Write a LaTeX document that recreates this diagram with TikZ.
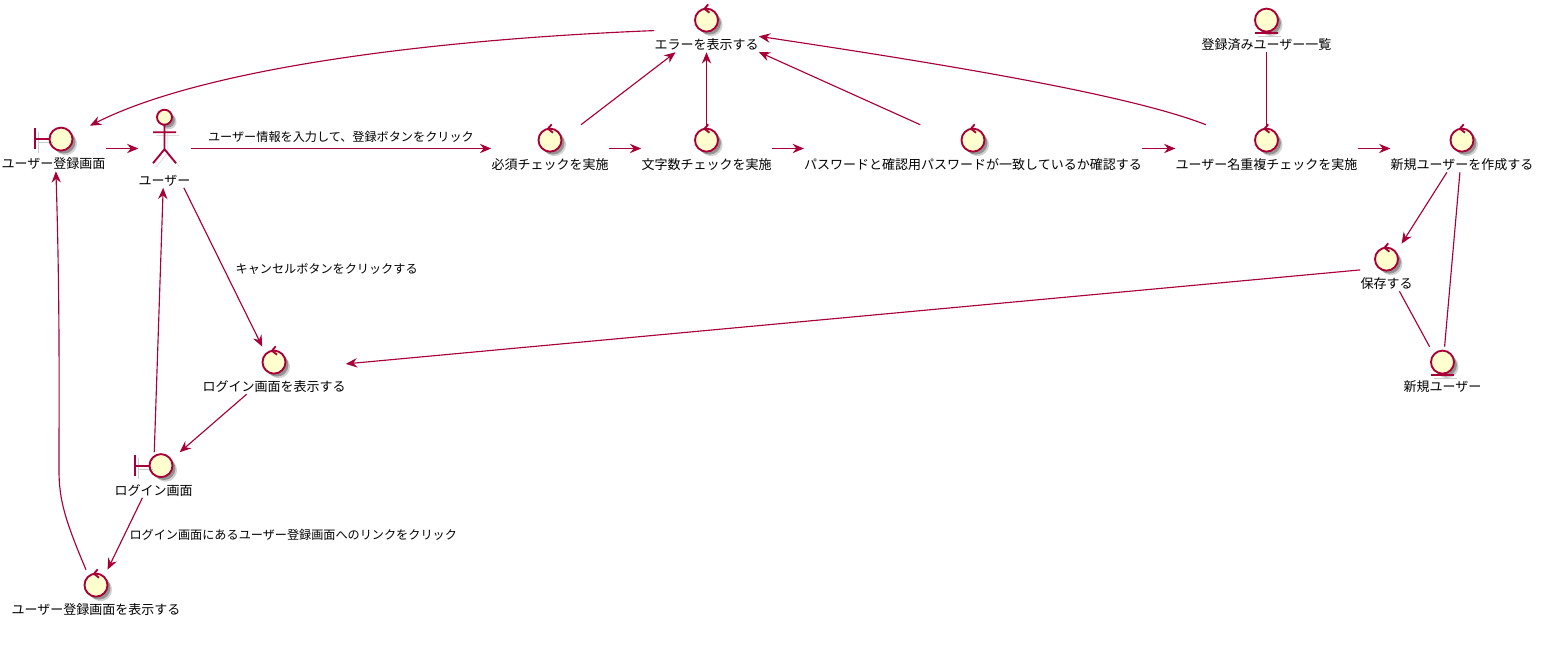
\documentclass[tikz,border=0pt]{standalone}
\usepackage{fontspec}
\setmainfont{Noto Sans CJK JP}
\usetikzlibrary{arrows.meta,shadows}
\definecolor{umlline}{HTML}{A80036}
\definecolor{umlfill}{HTML}{FEFECE}

\begin{document}
\begin{tikzpicture}[
    x=0.75pt, y=-0.75pt,
    elem/.style={rectangle, inner sep=0pt, font=\fontsize{9.75}{12}\selectfont, text height=33.5pt, text depth=1.75pt},
    disc/.style={draw=umlline, fill=umlfill, line width=1.4pt,
        drop shadow={shadow xshift=3.4pt, shadow yshift=-3.4pt, fill=black, opacity=0.18},
        drop shadow={shadow xshift=2.2pt, shadow yshift=-2.2pt, fill=black, opacity=0.3}},
    stroke/.style={draw=umlline, line width=1.4pt,
        preaction={draw=black, opacity=0.2, transform canvas={shift={(2.5pt,-2.5pt)}}}},
    control/.style={elem, append after command={\pgfextra{
        \draw[disc, shift={(\tikzlastnode.north)}] (0,15.4) circle[radius=11.5];
        \draw[draw=umlline, line width=1.4pt, shift={(\tikzlastnode.north)}] (1.7,-0.4) -- (-2,4) -- (3,8);
    }}},
    entity/.style={elem, append after command={\pgfextra{
        \draw[disc, shift={(\tikzlastnode.north)}] (0,15.4) circle[radius=11.5];
        \draw[stroke, shift={(\tikzlastnode.north)}] (-11.5,28.5) -- (11.5,28.5);
    }}},
    boundary/.style={elem, text height=32pt, append after command={\pgfextra{
        \draw[disc, shift={(\tikzlastnode.north)}] (7.5,13.4) circle[radius=11.5];
        \draw[stroke, shift={(\tikzlastnode.north)}] (-18.5,2.5) -- (-18.5,23.5) (-18.5,13.4) -- (-3.8,13.4);
    }}},
    actor/.style={elem, text height=56.75pt, append after command={\pgfextra{
        \draw[disc, shift={(\tikzlastnode.north)}] (0,8) circle[radius=7.5];
        \draw[stroke, shift={(\tikzlastnode.north)}] (0,15.5) -- (0,40) -- (-11.5,54) (0,40) -- (11.5,54) (-11.5,23) -- (11.5,23);
    }}},
    arrow/.style={-{Stealth[length=8.5pt, width=7pt, inset=2.8pt]}, draw=umlline, line width=0.85pt},
    link/.style={draw=umlline, line width=0.85pt},
    tag/.style={inner sep=0pt, font=\fontsize{9.1}{11}\selectfont}
]
    \useasboundingbox (0,0) rectangle (1543,648);

    % Nodes
    \node[control]  (err)       at (706.5,28.5)  {エラーを表示する};
    \node[entity]   (userlist)  at (1266.5,28.5) {登録済みユーザー一覧};
    \node[boundary] (regscr)    at (53.5,148.5)  {ユーザー登録画面};
    \node[actor]    (user)      at (164.5,148.5) {ユーザー};
    \node[control]  (chkreq)    at (550,148.5)   {必須チェックを実施};
    \node[control]  (chklen)    at (706.5,148.5) {文字数チェックを実施};
    \node[control]  (chkpw)     at (973,148.5)   {パスワードと確認用パスワードが一致しているか確認する};
    \node[control]  (chkdup)    at (1266.5,148.5) {ユーザー名重複チェックを実施};
    \node[control]  (create)    at (1462,148.5)  {新規ユーザーを作成する};
    \node[control]  (save)      at (1386.5,267.5) {保存する};
    \node[entity]   (newuser)   at (1442.5,370.5) {新規ユーザー};
    \node[control]  (showlogin) at (274,370.5)   {ログイン画面を表示する};
    \node[boundary] (loginscr)  at (153.5,475)   {ログイン画面};
    \node[control]  (showreg)   at (96,593.5)    {ユーザー登録画面を表示する};

    % Arrows
    \draw[arrow] (regscr) -- (user);
    \draw[arrow] (user) -- (chkreq)
          node[tag, midway, above=3.8pt] {ユーザー情報を入力して、登録ボタンをクリック};
    \draw[arrow] (chkreq) -- (chklen);
    \draw[arrow] (chklen) -- (chkpw);
    \draw[arrow] (chkpw) -- (chkdup);
    \draw[arrow] (chkdup) -- (create);
    \draw[arrow] (chkreq) -- (err);
    \draw[arrow] (chklen) -- (err);
    \draw[arrow] (chkpw) -- (err);
    \draw[arrow] (chkdup) .. controls (1130,95) and (950,65) .. (err);
    \draw[arrow] (err) .. controls (420,40) and (200,70) .. (regscr.32);
    \draw[link]  (userlist) -- (chkdup);
    \draw[arrow] (create) -- (save);
    \draw[link]  (create) -- (newuser);
    \draw[link]  (save) -- (newuser);
    \draw[arrow] (save) -- (showlogin);
    \draw[arrow] (user) -- (showlogin)
          node[tag, midway, right=9pt, yshift=-1.5pt] {キャンセルボタンをクリックする};
    \draw[arrow] (showlogin) -- (loginscr);
    \draw[arrow] (loginscr) -- (user);
    \draw[arrow] (loginscr) -- (showreg)
          node[tag, midway, right=3pt, yshift=-0.8pt] {ログイン画面にあるユーザー登録画面へのリンクをクリック};
    \draw[arrow] (showreg) .. controls (65,520) and (59,500) .. (59,470)
          .. controls (59,400) and (60,300) .. (regscr.276);
\end{tikzpicture}
\end{document}
